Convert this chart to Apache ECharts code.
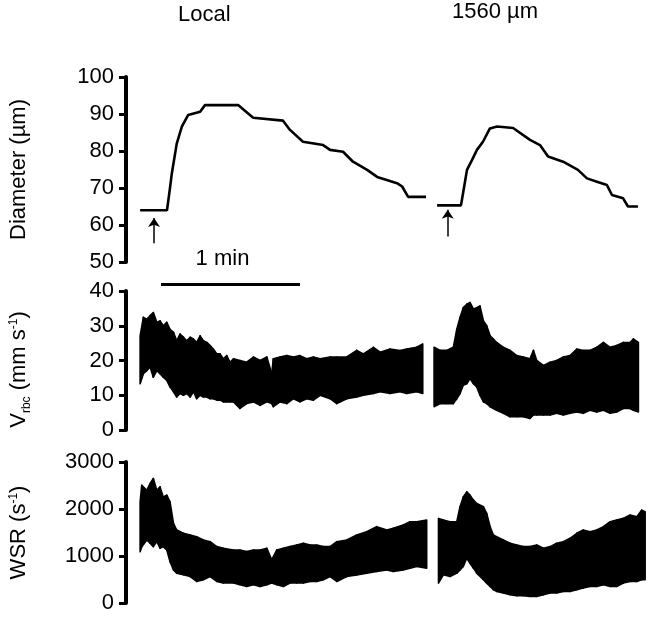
<!DOCTYPE html>
<html>
<head>
<meta charset="utf-8">
<script src="https://cdn.jsdelivr.net/npm/echarts@6/dist/echarts.min.js"></script>
<style>
  html, body { margin: 0; background: #fff; }
  #chart { width: 653px; height: 619px; }
</style>
</head>
<body>
<div id="chart"></div>
<script>
// time in seconds from the y axis line; the 1 min bar sets the scale
const FONT = 'Liberation Sans, Arial, sans-serif';

const diamLocal = [
  [6.5, 64], [18.1, 64], [19.1, 68.6], [20.2, 74], [22.3, 82], [24.5, 86.6], [27.2, 89.7],
  [32.4, 90.6], [34.5, 92.4], [48.8, 92.4], [55.3, 89], [68.2, 88.2], [71.2, 85.7],
  [76.8, 82.5], [85.5, 81.6], [88.5, 80.3], [94.1, 79.8], [98.4, 77.1], [104.5, 74.9],
  [108.8, 73], [117.4, 71.3], [119.6, 70.4], [122.2, 67.6], [129.9, 67.6],
];
const diam1560 = [
  [134.7, 65.3], [145.0, 65.3], [145.9, 68.6], [147.6, 74.9], [149.8, 77.6], [151.9, 80.3],
  [154.5, 82.5], [157.5, 86.1], [160.6, 86.6], [167.5, 86.2], [174.8, 83], [179.1, 81.6],
  [182.6, 78.5], [189.1, 77.1], [195.5, 74.9], [199.4, 72.6], [203.7, 71.7], [208.0, 70.8],
  [210.2, 68.1], [215.0, 67.2], [217.1, 65], [221.4, 65],
];

// [t, low envelope, high envelope]
const vrbcLocal = [
  [6.5, 13.3, 27.1], [7.9, 16.2, 32.4], [9.4, 17.1, 31.9], [10.8, 18.1, 32.9], [12.2, 15.2, 33.8],
  [13.7, 17.1, 31.0], [15.1, 16.2, 31.4], [16.5, 15.2, 30.0], [18.0, 14.3, 31.0], [19.4, 12.4, 29.0],
  [20.9, 11.0, 28.1], [22.3, 9.5, 25.7], [23.7, 10.5, 27.6], [25.2, 10.0, 26.7], [26.6, 10.5, 25.7],
  [28.1, 9.5, 26.7], [29.5, 11.0, 26.2], [30.9, 9.0, 25.2], [32.4, 10.0, 27.1], [33.8, 9.5, 25.7],
  [35.3, 9.5, 25.2], [36.7, 9.0, 24.3], [38.1, 9.0, 23.3], [39.6, 8.6, 21.9], [41.0, 8.6, 21.9],
  [42.4, 8.1, 20.5], [43.9, 8.1, 21.4], [45.3, 8.1, 19.5], [46.8, 8.1, 20.5], [49.6, 6.2, 20.0],
  [52.5, 7.6, 19.5], [55.4, 8.1, 21.0], [58.3, 7.1, 20.0], [61.2, 8.1, 21.0], [63.3, 7.6, 16.2],
  [64.0, 6.7, 20.5], [66.9, 8.1, 21.0], [69.8, 7.6, 21.4], [72.7, 9.0, 21.0], [75.5, 8.1, 21.4],
  [78.4, 9.0, 20.5], [81.3, 8.6, 21.0], [84.2, 10.0, 20.5], [88.5, 9.0, 21.0], [91.4, 7.6, 21.0],
  [95.7, 9.0, 21.0], [100.0, 9.5, 22.9], [102.9, 10.0, 21.9], [107.2, 10.5, 23.8], [110.1, 11.0, 22.4],
  [114.4, 10.5, 23.3], [118.7, 11.0, 22.9], [121.6, 10.5, 23.3], [125.9, 11.0, 23.8], [128.5, 10.5, 24.8],
];
const vrbc1560 = [
  [133.4, 6.7, 23.8], [136.0, 7.6, 22.9], [138.8, 7.6, 22.9], [141.7, 7.6, 23.8], [143.2, 9.0, 29.0],
  [144.6, 10.5, 32.4], [146.0, 12.9, 35.2], [147.5, 13.3, 36.2], [148.9, 14.8, 36.7], [150.4, 13.3, 34.8],
  [151.8, 12.4, 35.2], [153.2, 10.0, 35.7], [154.7, 8.1, 31.4], [156.1, 7.6, 30.0], [157.6, 6.7, 27.1],
  [159.0, 6.2, 26.2], [160.4, 5.7, 25.2], [163.3, 4.8, 23.8], [166.2, 3.8, 22.9], [169.1, 3.8, 21.4],
  [171.9, 3.8, 21.0], [174.8, 3.3, 20.5], [176.3, 4.3, 22.9], [177.7, 4.3, 20.0], [180.6, 4.3, 18.6],
  [183.5, 4.3, 19.5], [186.3, 4.8, 20.0], [189.2, 4.3, 21.0], [192.1, 4.8, 21.4], [195.0, 5.2, 23.3],
  [197.8, 4.8, 22.9], [200.7, 5.7, 22.9], [203.6, 5.2, 23.8], [206.5, 5.7, 25.2], [209.4, 4.8, 23.8],
  [212.2, 5.2, 24.3], [215.1, 6.2, 25.2], [218.0, 6.2, 25.2], [219.4, 5.7, 26.2], [221.6, 5.2, 25.2],
];
const wsrLocal = [
  [6.5, 1093, 2152], [7.2, 1199, 2506], [9.4, 1341, 2400], [10.8, 1271, 2542], [12.2, 1199, 2648],
  [13.7, 1305, 2400], [15.1, 1165, 2470], [16.5, 1199, 2258], [18.0, 1129, 2294], [19.4, 881, 2152],
  [20.9, 705, 1694], [22.3, 635, 1553], [25.2, 599, 1483], [28.1, 563, 1447], [30.9, 458, 1411],
  [33.8, 494, 1341], [36.7, 563, 1305], [39.6, 458, 1199], [42.4, 424, 1165], [46.8, 424, 1129],
  [49.6, 388, 1129], [52.5, 352, 1093], [55.4, 388, 1129], [58.3, 352, 1129], [61.2, 388, 1165],
  [63.3, 424, 917], [65.5, 388, 1129], [68.3, 352, 1165], [71.2, 424, 1199], [74.1, 424, 1235],
  [77.0, 424, 1271], [79.9, 458, 1235], [82.7, 458, 1235], [85.6, 494, 1199], [88.5, 563, 1199],
  [91.4, 458, 1305], [95.7, 563, 1341], [100.0, 599, 1447], [104.3, 635, 1518], [108.6, 670, 1624],
  [113.0, 705, 1553], [115.8, 670, 1589], [120.1, 705, 1659], [123.0, 741, 1729], [125.9, 776, 1729],
  [130.2, 741, 1765],
];
const wsr1560 = [
  [135.3, 424, 1800], [137.4, 599, 1765], [140.3, 563, 1729], [143.2, 635, 1729], [144.6, 705, 2047],
  [146.0, 776, 2258], [147.5, 953, 2364], [148.9, 847, 2294], [150.4, 741, 2188], [151.8, 635, 2118],
  [154.7, 494, 2047], [156.1, 424, 1906], [157.6, 352, 1624], [159.0, 282, 1447], [160.4, 247, 1411],
  [163.3, 212, 1341], [166.2, 176, 1271], [169.1, 155, 1235], [171.9, 155, 1199], [174.8, 141, 1199],
  [177.7, 141, 1235], [180.6, 176, 1165], [183.5, 212, 1199], [186.3, 212, 1271], [189.2, 247, 1305],
  [192.1, 247, 1377], [195.0, 282, 1483], [197.8, 318, 1553], [200.7, 352, 1518], [203.6, 352, 1553],
  [206.5, 388, 1624], [209.4, 352, 1729], [212.2, 352, 1765], [215.1, 424, 1800], [218.0, 458, 1871],
  [220.9, 458, 1835], [223.0, 494, 1976], [224.5, 494, 1941],
];

// stimulus arrows (t, from, to) in diameter units, and the 1 min scale bar
const arrowT = [12.5, 139.3];
const arrowFrom = [55.1, 56.9];
const arrowTo = [61.9, 64.1];
const scaleBar = [15.5, 75.5];

const chart = echarts.init(document.getElementById('chart'), null, { renderer: 'canvas' });

const black = '#000';
const X_MIN = 0.4;
const X_MAX = 226;

function yAxisBase(grid, min, max, interval, name, rich) {
  return {
    type: 'value',
    gridIndex: grid,
    min, max, interval,
    name,
    nameLocation: 'middle',
    nameRotate: 90,
    nameGap: 96,
    nameTextStyle: { fontSize: 22, color: black, fontFamily: FONT, rich },
    axisLine: { show: true, lineStyle: { color: black, width: 4 } },
    axisTick: { show: true, length: 7, lineStyle: { color: black, width: 3 } },
    axisLabel: { fontSize: 22, color: black, fontFamily: FONT, margin: 12, formatter: (v) => String(v) },
    splitLine: { show: false },
  };
}

// each sample fills the strip up to the next sample's envelope
function band(rows, axis) {
  return {
    type: 'custom', xAxisIndex: axis, yAxisIndex: axis, silent: true,
    data: rows,
    encode: { x: 0, y: [1, 2] },
    renderItem: (params, api) => {
      const next = params.dataIndexInside + 1;
      if (next >= params.dataInsideLength) return null;
      const p1 = api.coord([api.value(0), api.value(1)]);
      const p2 = api.coord([api.value(0), api.value(2)]);
      const p3 = api.coord([api.value(0, next), api.value(2, next)]);
      const p4 = api.coord([api.value(0, next), api.value(1, next)]);
      return {
        type: 'polygon',
        shape: { points: [p1, p2, p3, p4] },
        style: { fill: black, stroke: black, lineWidth: 1.6, lineJoin: 'round' },
      };
    },
  };
}

function arrow(i) {
  return [{ coord: [arrowT[i], arrowFrom[i]] }, { coord: [arrowT[i], arrowTo[i]] }];
}

const supSub = {
  sub: { fontSize: 12, fontFamily: FONT, color: black, verticalAlign: 'bottom', padding: [0, 0, -3, 0] },
  sup: { fontSize: 12, fontFamily: FONT, color: black, verticalAlign: 'top' },
};

const grids = [
  { left: 126, right: 4.4, top: 77, height: 185 },
  { left: 126, right: 4.4, top: 291, height: 139 },
  { left: 126, right: 4.4, top: 462, height: 141 },
  { left: 126, right: 4.4, top: 262, height: 44 },
].map((g) => ({ ...g, outerBoundsMode: 'none', containLabel: false }));

const vrbcAxis = yAxisBase(1, 0, 40, 10, 'V{sub|rbc} (mm s{sup|-1})', supSub);
vrbcAxis.nameTextStyle.padding = [0, 0, 0, -18];

chart.setOption({
  animation: false,
  backgroundColor: '#fff',
  title: [
    { text: 'Local', left: 178, top: 4, padding: 0, textStyle: { fontSize: 22, fontWeight: 'normal', color: black, fontFamily: FONT } },
    { text: '1560 µm', left: 452, top: 1, padding: 0, textStyle: { fontSize: 22, fontWeight: 'normal', color: black, fontFamily: FONT } },
  ],
  grid: grids,
  xAxis: [0, 1, 2, 3].map((i) => ({ type: 'value', gridIndex: i, min: X_MIN, max: X_MAX, show: false })),
  yAxis: [
    yAxisBase(0, 50, 100, 10, 'Diameter (µm)'),
    vrbcAxis,
    yAxisBase(2, 0, 3000, 1000, 'WSR (s{sup|-1})', supSub),
    { type: 'value', gridIndex: 3, min: -1, max: 1, show: false },
  ],
  series: [
    {
      type: 'line', xAxisIndex: 0, yAxisIndex: 0, silent: true, showSymbol: false,
      lineStyle: { color: black, width: 2.6 },
      data: diamLocal,
      markLine: {
        silent: true, animation: false, symbol: ['none', 'arrow'], symbolSize: 9,
        lineStyle: { color: black, width: 1.5, type: 'solid' }, label: { show: false },
        data: [arrow(0)],
      },
    },
    {
      type: 'line', xAxisIndex: 0, yAxisIndex: 0, silent: true, showSymbol: false,
      lineStyle: { color: black, width: 2.6 },
      data: diam1560,
      markLine: {
        silent: true, animation: false, symbol: ['none', 'arrow'], symbolSize: 9,
        lineStyle: { color: black, width: 1.5, type: 'solid' }, label: { show: false },
        data: [arrow(1)],
      },
    },
    band(vrbcLocal, 1),
    band(vrbc1560, 1),
    band(wsrLocal, 2),
    band(wsr1560, 2),
    {
      type: 'line', xAxisIndex: 3, yAxisIndex: 3, silent: true, data: [],
      markLine: {
        silent: true, animation: false, symbol: ['none', 'none'],
        lineStyle: { color: black, width: 3, type: 'solid' },
        label: { show: true, position: 'middle', formatter: '1 min', fontSize: 22, color: black, fontFamily: FONT, distance: 14, offset: [-8, 0] },
        data: [[{ coord: [scaleBar[0], 0] }, { coord: [scaleBar[1], 0] }]],
      },
    },
  ],
});
</script>
</body>
</html>
